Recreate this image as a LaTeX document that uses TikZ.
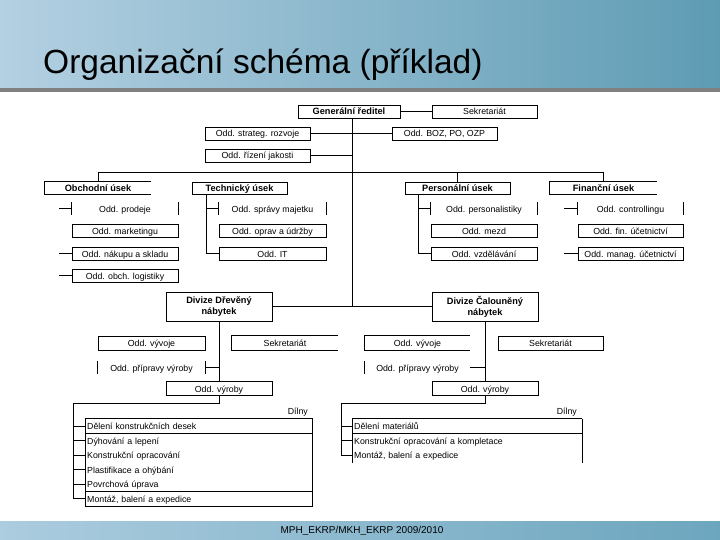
\documentclass[tikz,border=0pt]{standalone}
\usepackage{fontspec}
\setmainfont{Liberation Sans}
\definecolor{barL}{RGB}{180,208,226}
\definecolor{barR}{RGB}{94,156,180}
\definecolor{footL}{RGB}{172,204,223}
\definecolor{footR}{RGB}{108,166,190}
\definecolor{rule}{RGB}{128,128,128}
\begin{document}
\begin{tikzpicture}[x=1pt,y=-1pt,
  ln/.style={line width=0.8pt, black},
  fnt/.style={font=\fontsize{8.8}{10}\selectfont},
  bfnt/.style={font=\fontsize{9.2}{11}\selectfont\bfseries},
  vc/.style={text height=7.2pt, text depth=0.2pt},
  txt/.style={inner sep=0pt, anchor=center, fnt, vc},
  box/.style={txt, draw, line width=0.8pt, minimum height=13pt},
  plain/.style={txt, minimum height=13pt},
  hbox/.style={box, bfnt},
  hplain/.style={plain, bfnt},
  divbox/.style={draw, line width=0.8pt, inner sep=0pt, anchor=center, bfnt, align=center, minimum width=106pt, minimum height=29pt},
  row/.style={inner sep=0pt, inner xsep=2pt, anchor=west, minimum height=14.5pt, align=left, fnt, vc}
]
\useasboundingbox (0,0) rectangle (720,540);
% header and footer bars
\shade[left color=barL, right color=barR] (0,0) rectangle (720,88);
\fill[rule] (0,88) rectangle (720,92);
\node[anchor=base west, inner sep=0pt, font=\fontsize{33.5}{38}\selectfont] (title) at (43,74) {Organizační schéma (příklad)};
\shade[left color=footL, right color=footR] (0,521) rectangle (720,540);
\node[inner sep=0pt, font=\fontsize{10}{12}\selectfont] (foot) at (362,531) {MPH\_EKRP/MKH\_EKRP 2009/2010};

% top level
\node[hbox, minimum width=102pt] (gr) at (349,111.5) {Generální ředitel};
\node[box, minimum width=105pt] (sek) at (484.5,111.5) {Sekretariát};
\node[box, minimum width=105pt] (str) at (257.5,133.5) {Odd. strateg. rozvoje};
\node[box, minimum width=105pt] (boz) at (444.5,133.5) {Odd. BOZ, PO, OZP};
\node[box, minimum width=105pt] (jak) at (257.5,155.5) {Odd. řízení jakosti};
\coordinate (tj) at (352,306.5);
\draw[ln] (gr.south -| tj) -- (tj);
\draw[ln] (gr.east) -- (sek.west);
\draw[ln] (str.east) -- (str.east -| tj);
\draw[ln] (boz.west) -- (boz.west -| tj);
\draw[ln] (jak.east) -- (jak.east -| tj);

% sections
\coordinate (u1) at (98,172);
\coordinate (u3) at (457.5,172);
\coordinate (u4) at (603.5,172);
\node[hplain, minimum width=106pt, minimum height=12pt] (obch) at (98,188) {Obchodní úsek};
\node[hbox, minimum width=95pt, minimum height=12pt] (tech) at (239.5,188) {Technický úsek};
\node[hbox, minimum width=105pt, minimum height=12pt] (pers) at (457.5,188) {Personální úsek};
\node[hplain, minimum width=107pt, minimum height=12pt] (fin) at (603.5,188) {Finanční úsek};
\draw[ln] (obch.north east) -- (obch.north west) -- (obch.south west) -- (obch.south east);
\draw[ln] (fin.north east) -- (fin.north west) -- (fin.south west) -- (fin.south east);
\draw[ln] (u1) -- (u4);
\draw[ln] (u1) -- (obch.north -| u1);
\draw[ln] (u3) -- (pers.north -| u3);
\draw[ln] (u4) -- (fin.north -| u4);

% Obchodni column
\coordinate (ox) at (59,0);
\node[plain, minimum width=106pt] (o1) at (125,208.5) {Odd. prodeje};
\node[box, minimum width=106pt] (o2) at (125,230.5) {Odd. marketingu};
\node[box, minimum width=106pt] (o3) at (125,253.5) {Odd. nákupu a skladu};
\node[box, minimum width=106pt] (o4) at (125,275.5) {Odd. obch. logistiky};
\draw[ln] (o1.north west) -- (o1.south west) (o1.north east) -- (o1.south east);
\draw[ln] (o1.west -| ox) -- (o1.west);
\draw[ln] (o3.west -| ox) -- (o3.west);
\draw[ln] (o4.west -| ox) -- (o4.west);

% Technicky column
\coordinate (tx) at (206,0);
\node[plain, minimum width=107pt] (t1) at (272.5,208.5) {Odd. správy majetku};
\node[box, minimum width=107pt] (t2) at (272.5,230.5) {Odd. oprav a údržby};
\node[box, minimum width=107pt] (t3) at (272.5,253.5) {Odd. IT};
\draw[ln] (t1.north west) -- (t1.south west) (t1.north east) -- (t1.south east);
\draw[ln] (tech.south -| tx) -- (t3.west -| tx) -- (t3.west);
\draw[ln] (t1.west -| tx) -- (t1.west);

% Personalni column
\coordinate (px) at (418,0);
\node[plain, minimum width=106pt] (p1) at (484,208.5) {Odd. personalistiky};
\node[box, minimum width=106pt] (p2) at (484,230.5) {Odd. mezd};
\node[box, minimum width=106pt] (p3) at (484,253.5) {Odd. vzdělávání};
\draw[ln] (p1.north west) -- (p1.south west) (p1.north east) -- (p1.south east);
\draw[ln] (pers.south -| px) -- (p3.west -| px) -- (p3.west);
\draw[ln] (p1.west -| px) -- (p1.west);

% Financni column
\coordinate (fx) at (564,0);
\node[plain, minimum width=105pt] (f1) at (630.5,208.5) {Odd. controllingu};
\node[box, minimum width=105pt] (f2) at (630.5,230.5) {Odd. fin. účetnictví};
\node[box, minimum width=105pt] (f3) at (630.5,253.5) {Odd. manag. účetnictví};
\draw[ln] (f1.north west) -- (f1.south west) (f1.north east) -- (f1.south east);
\draw[ln] (f1.west -| fx) -- (f1.west);
\draw[ln] (f3.west -| fx) -- (f3.west);

% divisions
\node[divbox] (dd) at (219,306.5) {Divize Dřevěný\\nábytek};
\node[divbox] (dc) at (485,306.5) {Divize Čalouněný\\nábytek};
\draw[ln] (dd.east) -- (dc.west);

% left division
\node[box, minimum width=107pt, minimum height=14pt] (v1) at (151.5,343) {Odd. vývoje};
\node[plain, minimum width=106pt, minimum height=14pt] (s1) at (285,343) {Sekretariát};
\draw[ln] (s1.north east) -- (s1.north west) -- (s1.south west) -- (s1.south east);
\node[plain, minimum width=107pt] (r1) at (151.5,367.5) {Odd. přípravy výroby};
\draw[ln] (r1.north west) -- (r1.south west) (r1.north east) -- (r1.south east);
\node[box, minimum width=106pt, minimum height=14pt] (y1) at (219,388.5) {Odd. výroby};
\draw[ln] (dd.south) -- (y1.north);
\draw[ln] (r1.east) -- (r1.east -| dd.south);

% right division
\node[plain, minimum width=105pt, minimum height=14pt] (v2) at (417.5,343) {Odd. vývoje};
\draw[ln] (v2.north east) -- (v2.north west) -- (v2.south west) -- (v2.south east);
\node[box, minimum width=105pt, minimum height=14pt] (s2) at (550.5,343) {Sekretariát};
\node[plain, minimum width=105pt] (r2) at (417.5,367.5) {Odd. přípravy výroby};
\draw[ln] (r2.north west) -- (r2.south west);
\node[box, minimum width=106pt, minimum height=14pt] (y2) at (485,388.5) {Odd. výroby};
\draw[ln] (dc.south) -- (y2.north);
\draw[ln] (r2.east) -- (r2.east -| dc.south);

% workshops left
\coordinate (lc) at (73,403);
\node[row, text width=223pt] (a1) at (85,426.25) {Dělení konstrukčních desek};
\node[row, text width=223pt] (a2) at (85,440.75) {Dýhování a lepení};
\node[row, text width=223pt] (a3) at (85,455.25) {Konstrukční opracování};
\node[row, text width=223pt] (a4) at (85,469.75) {Plastifikace a ohýbání};
\node[row, text width=223pt] (a5) at (85,484.25) {Povrchová úprava};
\node[row, text width=223pt] (a6) at (85,498.75) {Montáž, balení a expedice};
\node[txt, anchor=east] (dl1) at (308,411) {Dílny};
\draw[ln] (a1.north west) rectangle (a6.south east);
\draw[ln] (a1.south west) -- (a1.south east);
\draw[ln] (a5.south west) -- (a5.south east);
\draw[ln] (y1.south) -- (y1.south |- lc) -- (lc) -- (lc |- a6.west) -- (a6.west);
\foreach \r in {a1,a2,a3,a4,a5} \draw[ln] (\r.west -| lc) -- (\r.west);

% workshops right
\coordinate (rc) at (341,403);
\node[row, text width=226pt] (b1) at (352,426.25) {Dělení materiálů};
\node[row, text width=226pt] (b2) at (352,440.75) {Konstrukční opracování a kompletace};
\node[row, text width=226pt] (b3) at (352,455.25) {Montáž, balení a expedice};
\node[txt, anchor=east] (dl2) at (577,411) {Dílny};
\draw[ln] (b1.north west) -- (b1.north east);
\draw[ln] (b1.south west) -- (b1.south east);
\draw[ln] (b1.north west) -- (b3.south west);
\draw[ln] (b1.north east) -- (b3.south east);
\draw[ln] (y2.south) -- (y2.south |- rc) -- (rc) -- (rc |- b3.west) -- (b3.west);
\foreach \r in {b1,b2} \draw[ln] (\r.west -| rc) -- (\r.west);
\end{tikzpicture}
\end{document}
